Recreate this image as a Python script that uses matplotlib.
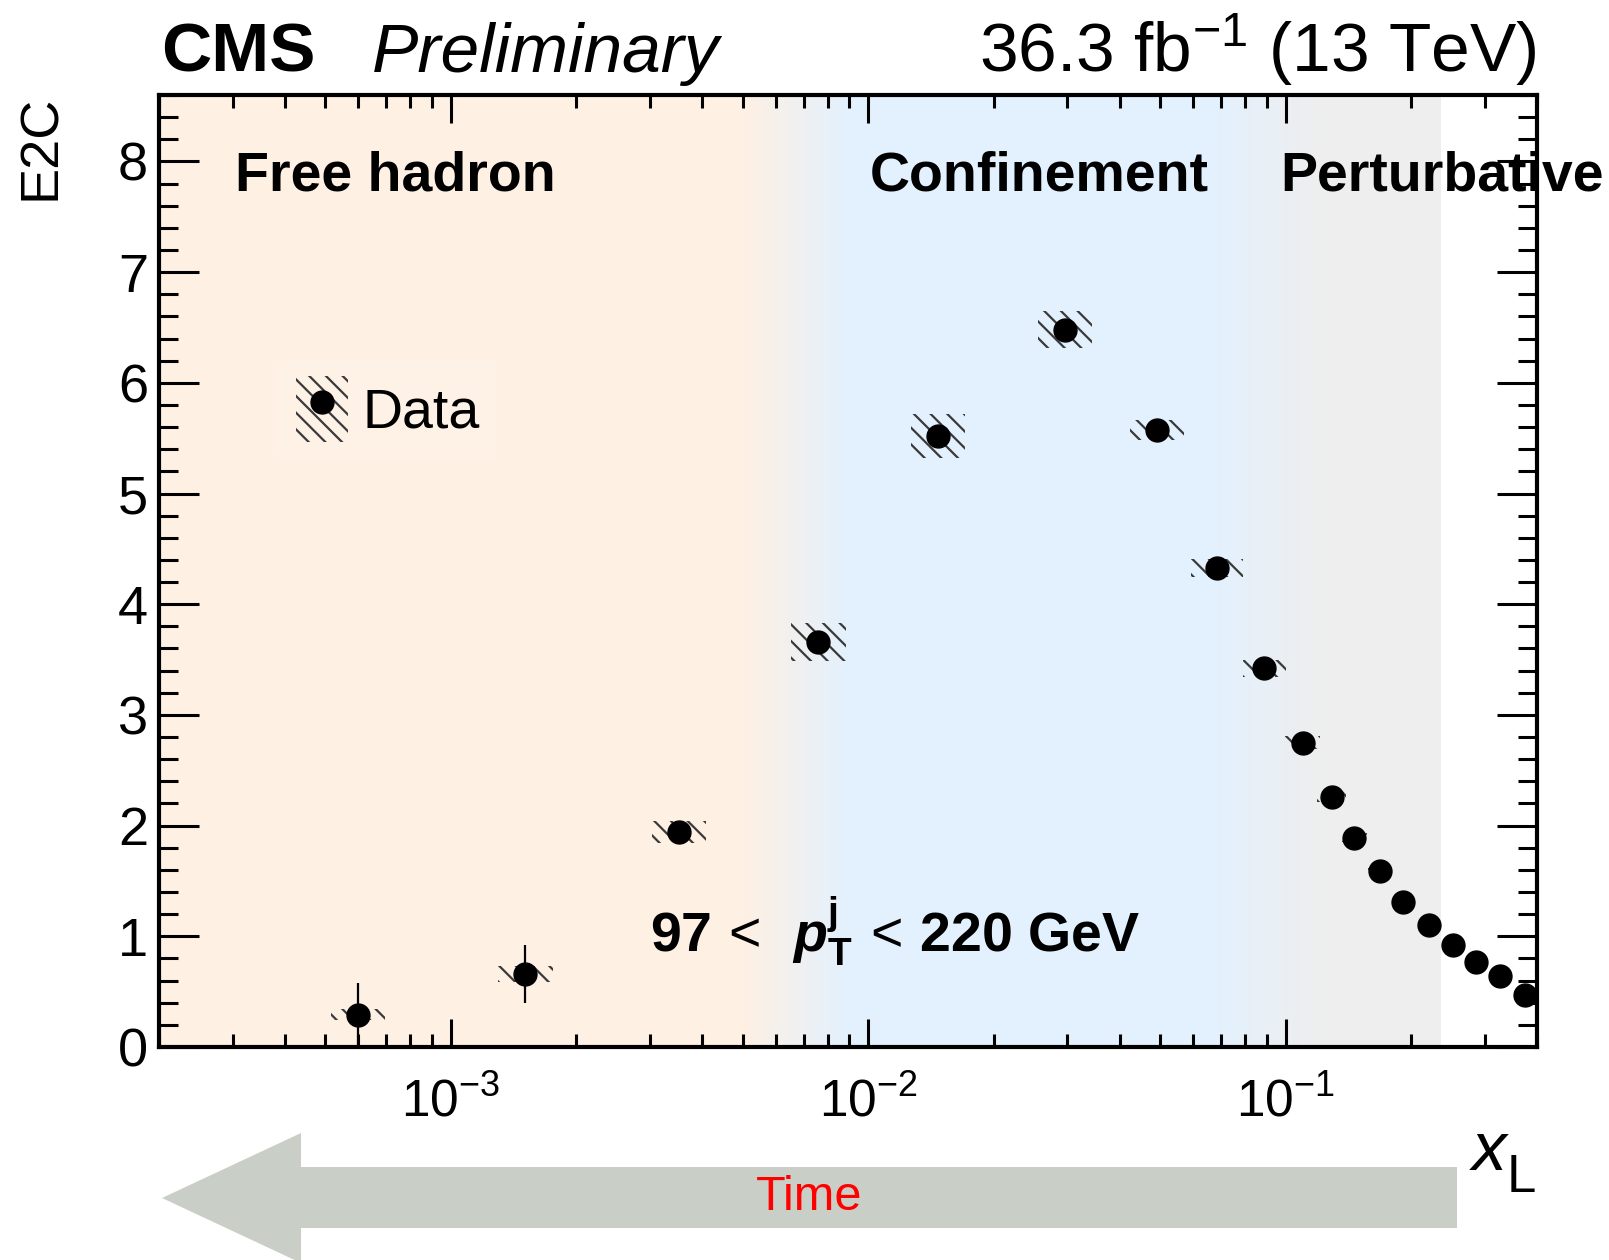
import numpy as np
import matplotlib

matplotlib.use("Agg")
import matplotlib.pyplot as plt
from matplotlib.lines import Line2D
from matplotlib.patches import Polygon, Rectangle
from matplotlib.ticker import LogLocator, MultipleLocator, NullFormatter

# E2C vs x_L, 97 < pT < 220 GeV
x_l = [6.0e-4, 1.51e-3, 3.52e-3, 7.6e-3, 1.47e-2, 2.96e-2, 4.91e-2, 6.86e-2,
       8.89e-2, 0.110, 0.129, 0.146, 0.168, 0.191, 0.220, 0.251, 0.286,
       0.327, 0.375]
e2c = [0.29, 0.66, 1.94, 3.66, 5.52, 6.48, 5.57, 4.33, 3.42, 2.75, 2.26,
       1.89, 1.59, 1.31, 1.10, 0.92, 0.77, 0.64, 0.47]
stat_err = [0.29, 0.26, 0.05, 0.05, 0.04, 0.03, 0.02, 0.02, 0.015, 0.01,
            0.01, 0.01, 0.01, 0.01, 0.01, 0.01, 0.01, 0.01, 0.01]
syst_err = [0.05, 0.07, 0.10, 0.17, 0.20, 0.17, 0.09, 0.08, 0.08, 0.06,
            0.05, 0.04, 0.03, 0.03, 0.03, 0.02, 0.02, 0.02, 0.02]
# half width of the systematic boxes, in decades
box_halfwidth = [0.065, 0.065, 0.065, 0.065, 0.065, 0.065, 0.065, 0.062,
                 0.052, 0.042, 0.035, 0.030, 0.028, 0.026, 0.025, 0.024,
                 0.024, 0.024, 0.024]

# background regions: colour stops along x_L, white above the last edge
band_stops = [5.0e-3, 9.0e-3, 0.067, 0.12]
band_colors = ["#fef0e3", "#e3f1fe", "#e3f1fe", "#eeeeee"]
band_end = 0.235

x_range = (2.0e-4, 0.4)
y_range = (0.0, 8.6)

plt.rcParams["font.family"] = ["Liberation Sans", "DejaVu Sans"]
plt.rcParams["mathtext.fontset"] = "custom"
plt.rcParams["mathtext.rm"] = "Liberation Sans"
plt.rcParams["mathtext.it"] = "Liberation Sans:italic"
plt.rcParams["mathtext.bf"] = "Liberation Sans:bold"
has_bfit = "mathtext.bfit" in plt.rcParams
if has_bfit:
    plt.rcParams["mathtext.bfit"] = "Liberation Sans:bold:italic"
plt.rcParams["hatch.linewidth"] = 1.6

W, H = 1609, 1260
fig = plt.figure(figsize=(W / 100, H / 100), dpi=100)
rect = [159 / W, (H - 1047) / H, (1537 - 159) / W, (1047 - 95) / H]

# gradient background on its own axes underneath
bg = fig.add_axes(rect, zorder=0)
lo, hi = np.log10(x_range)
lx = np.linspace(lo, hi, 1400)
rgb = np.array([matplotlib.colors.to_rgb(c) for c in band_colors])
img = np.stack([np.interp(lx, np.log10(band_stops), rgb[:, k]) for k in range(3)], axis=-1)
img[lx > np.log10(band_end)] = 1.0
bg.imshow(img[np.newaxis, :, :], extent=[0, 1, 0, 1], aspect="auto", interpolation="nearest")
bg.set_xlim(0, 1)
bg.set_ylim(0, 1)
bg.axis("off")

ax = fig.add_axes(rect, zorder=1)
ax.set_facecolor("none")
ax.set_xscale("log")
ax.set_xlim(*x_range)
ax.set_ylim(*y_range)

hatch_color = "#3a3a3a"
for xc, yc, dy, hw in zip(x_l, e2c, syst_err, box_halfwidth):
    x0, x1 = xc * 10 ** -hw, xc * 10 ** hw
    ax.add_patch(Rectangle((x0, yc - dy), x1 - x0, 2 * dy, facecolor="none",
                           edgecolor=hatch_color, linewidth=0, hatch="\\\\", zorder=2))
ax.errorbar(x_l, e2c, yerr=stat_err, fmt="o", color="black", ms=16.5,
            elinewidth=1.6, capsize=0, zorder=3)

# legend: hatched box with the data dot on top
leg_box = Rectangle((0, 0), 1, 1, facecolor="none", edgecolor=hatch_color,
                    linewidth=0, hatch="\\\\")
leg_dot = Line2D([], [], marker="o", color="black", ms=16.5, linestyle="none")
leg = ax.legend(handles=[(leg_box, leg_dot)], labels=["Data"], fontsize=40,
                loc="upper left", bbox_to_anchor=(0.087, 0.722), borderaxespad=0,
                handlelength=0.95, handleheight=1.45, handletextpad=0.25,
                borderpad=0.3, frameon=True, fancybox=False,
                facecolor="white", framealpha=0.12, edgecolor="none")

# axis styling
for sp in ax.spines.values():
    sp.set_linewidth(3)
    sp.set_zorder(10)
ax.yaxis.set_major_locator(MultipleLocator(1))
ax.yaxis.set_minor_locator(MultipleLocator(0.2))
ax.xaxis.set_major_locator(LogLocator(base=10, numticks=10))
ax.xaxis.set_minor_locator(LogLocator(base=10, subs=np.arange(2, 10), numticks=20))
ax.xaxis.set_minor_formatter(NullFormatter())
ax.tick_params(which="both", direction="in", top=True, right=True, width=2.2)
ax.tick_params(axis="y", which="major", length=28.5, labelsize=39, pad=8)
ax.tick_params(axis="y", which="minor", length=14)
ax.tick_params(axis="x", which="major", length=20, labelsize=37, pad=22)
ax.tick_params(axis="x", which="minor", length=9.5)

ax.set_ylabel("E2C", fontsize=39, loc="top", va="center")
ax.yaxis.set_label_coords(-0.0856, 1.0)
# x_L title: italic x with a large, dropped subscript
ax.text(0.978, -0.129, "x", transform=ax.transAxes, ha="right", va="baseline",
        fontsize=50, style="italic")
ax.text(0.999, -0.152, "L", transform=ax.transAxes, ha="right", va="baseline",
        fontsize=38)

# region labels
for xt, label in [(0.0552, "Free hadron"), (0.516, "Confinement"), (0.8135, "Perturbative")]:
    ax.text(xt, 0.900, label, transform=ax.transAxes, fontsize=40,
            fontweight="bold", va="baseline", ha="left", clip_on=False, zorder=4)

pfont = "\\mathbfit{p}" if has_bfit else "\\mathit{p}"
ax.text(0.3563, 0.0998,
        "$\\mathbf{97}\\,<\\ \\," + pfont + "_{\\mathbf{T}}^{\\mathbf{j}}\\,<\\,\\mathbf{220\\ GeV}$",
        transform=ax.transAxes, fontsize=40, va="baseline", ha="left", zorder=4,
        fontweight="bold")

# header
fig.text(161 / W, (H - 72) / H, "CMS", fontsize=50, fontweight="bold", va="baseline")
fig.text(372 / W, (H - 72) / H, "Preliminary", fontsize=50, style="italic", va="baseline")
fig.text(1537 / W, (H - 72) / H, "36.3 fb$^{-1}$ (13 TeV)", fontsize=50,
         ha="right", va="baseline")


# time arrow below the axis
def px(x, y):
    return (x / W, (H - y) / H)


arrow = Polygon([px(162, 1198), px(301, 1133), px(301, 1167), px(1457, 1167),
                 px(1457, 1228), px(301, 1228), px(301, 1263)],
                closed=True, facecolor="#c9cfc6", edgecolor="none",
                transform=fig.transFigure)
fig.add_artist(arrow)
fig.text(809 / W, (H - 1198) / H, "Time", color="red", fontsize=35,
         ha="center", va="center")

fig.savefig("out.png", dpi=100)
